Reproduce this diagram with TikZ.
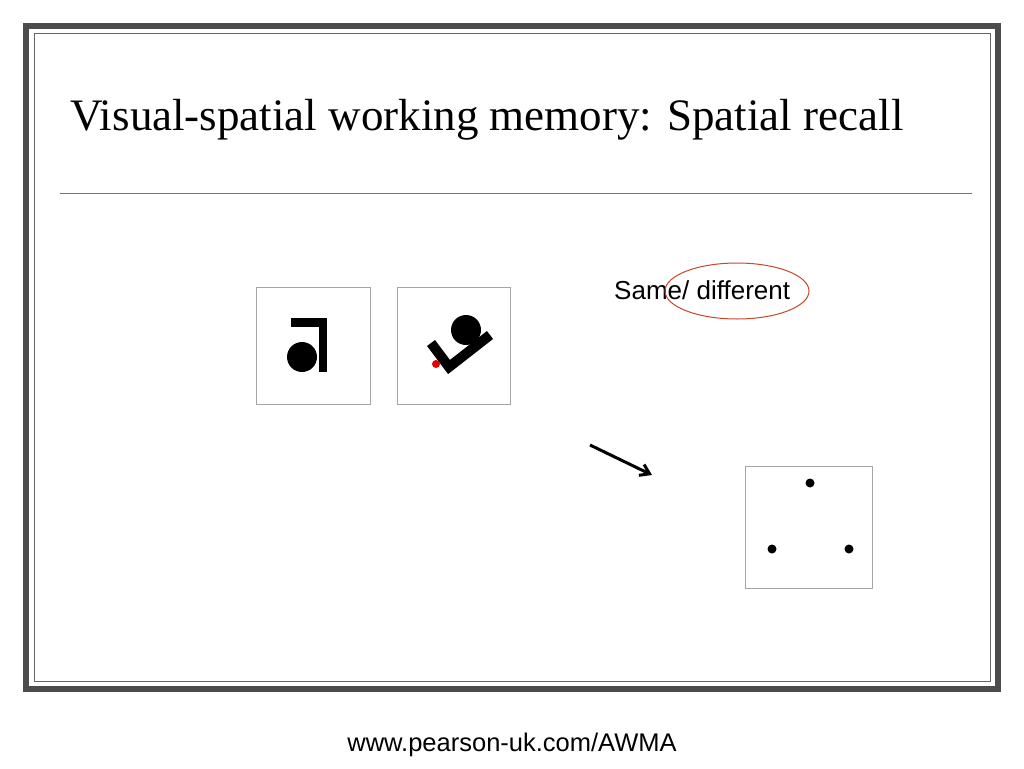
\documentclass[tikz,border=0pt]{standalone}
\usetikzlibrary{arrows.meta}
\usepackage{fontspec}
\setmainfont{Liberation Serif}
\newfontfamily\sansf{Liberation Sans}
\begin{document}
\begin{tikzpicture}[x=1pt,y=-1pt,
  card/.style={draw=black!35,line width=1pt,fill=white},
  dot/.style={circle,fill=black,inner sep=0pt,minimum size=9pt}]
\useasboundingbox (0,0) rectangle (1024,768);
\draw[black!70,line width=6pt] (26,26) rectangle (998,689);
\draw[black!60,line width=1pt] (34,34) rectangle (990,681);
\node[anchor=base west,font=\fontsize{45}{50}\selectfont,inner sep=0pt] (title) at (70,130) {Visual-spatial working memory: Spatial recall};
\draw[color={rgb,255:red,110;green,110;blue,150},line width=1pt] (60,193) -- (972,193);
% box 1
\draw[card] (256,287) rectangle (370,404);
\fill (291,318) rectangle (327,327);
\fill (319,318) rectangle (327,372);
\fill (302,357) circle (15);
% box 2
\draw[card] (397,287) rectangle (510,404);
\fill (466,330) circle (15);
\draw[line width=10pt] (431,343) -- (449,367) -- (490,335);
\fill[red!90!black] (436,364) circle (4);
% same/different
\node[font=\sansf\fontsize{26}{30}\selectfont,anchor=base west,inner sep=0pt] (sd) at (614,299) {Same/ different};
\draw[color={rgb,255:red,200;green,70;blue,40},line width=1pt] (737,291) ellipse (72 and 28);
% arrow
\coordinate (a1) at (590,445);
\coordinate (a2) at (652,475);
\draw[line width=3pt,-{Straight Barb[length=9pt,width=12pt]}] (a1) -- (a2);
% box 3
\draw[card] (745,466) rectangle (872,588);
\node[dot] (d1) at (810,483) {};
\node[dot] (d2) at (772,549) {};
\node[dot] (d3) at (849,549) {};
\node[font=\sansf\fontsize{25.5}{28}\selectfont] (url) at (512,745) {www.pearson-uk.com/AWMA};
\end{tikzpicture}
\end{document}
